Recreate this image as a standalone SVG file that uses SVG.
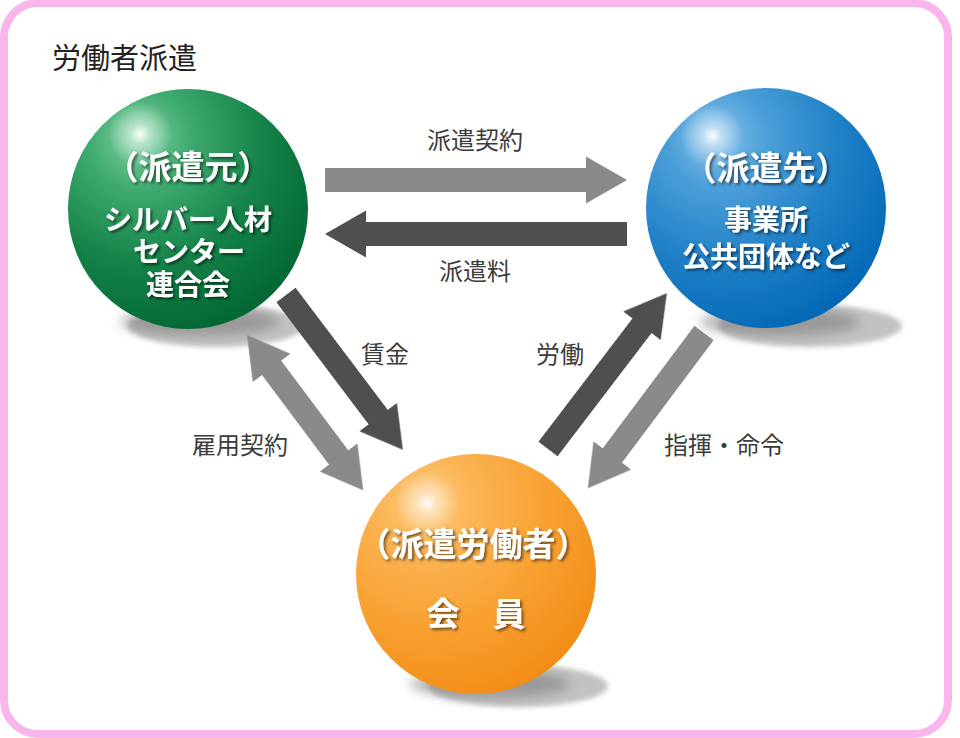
<svg xmlns="http://www.w3.org/2000/svg" width="960" height="738" viewBox="0 0 960 738">
<defs>
<style>
.title{font-family:"Noto Sans CJK JP","Noto Sans",sans-serif;font-size:29px;fill:#222;}
.lbl{font-family:"Noto Sans CJK JP","Noto Sans",sans-serif;font-size:24px;fill:#3c3c3c;}
.nt{font-family:"Noto Sans CJK JP","Noto Sans",sans-serif;font-weight:bold;fill:#fff;text-anchor:middle;filter:url(#tshadow);}
.h{font-size:33px;}
.s{font-size:28px;}
.light{fill:#8a8a8a;}
.dark{fill:#4f4f4f;}
.shadow{fill:#c2c2c2;filter:url(#blur);}
.contact{fill:#777;filter:url(#blur2);opacity:0.55;}
</style>
<filter id="tshadow" x="-20%" y="-30%" width="140%" height="160%">
<feDropShadow dx="2" dy="2" stdDeviation="1.5" flood-color="#000" flood-opacity="0.55"/>
</filter>
<filter id="blur" x="-20%" y="-50%" width="140%" height="200%"><feGaussianBlur stdDeviation="2.5"/></filter>
<filter id="blur2" x="-20%" y="-50%" width="140%" height="200%"><feGaussianBlur stdDeviation="6"/></filter>
<filter id="ablur"><feGaussianBlur stdDeviation="0.6"/></filter>
<radialGradient id="gGreen" cx="0.32" cy="0.24" r="0.85" fx="0.29" fy="0.2">
<stop offset="0" stop-color="#7fd0a2"/>
<stop offset="0.25" stop-color="#3faa6f"/>
<stop offset="0.6" stop-color="#148248"/>
<stop offset="1" stop-color="#006430"/>
</radialGradient>
<radialGradient id="gBlue" cx="0.32" cy="0.24" r="0.85" fx="0.29" fy="0.2">
<stop offset="0" stop-color="#84c0ea"/>
<stop offset="0.25" stop-color="#4a9ed8"/>
<stop offset="0.6" stop-color="#1f80c6"/>
<stop offset="1" stop-color="#0065b4"/>
</radialGradient>
<radialGradient id="gOrange" cx="0.32" cy="0.24" r="0.85" fx="0.29" fy="0.2">
<stop offset="0" stop-color="#fdca80"/>
<stop offset="0.25" stop-color="#fbb352"/>
<stop offset="0.6" stop-color="#f8a030"/>
<stop offset="1" stop-color="#f18a14"/>
</radialGradient>
<radialGradient id="hl">
<stop offset="0" stop-color="#fff" stop-opacity="0.95"/>
<stop offset="0.3" stop-color="#fff" stop-opacity="0.5"/>
<stop offset="1" stop-color="#fff" stop-opacity="0"/>
</radialGradient>
</defs>
<rect width="960" height="738" fill="#fff"/>
<rect id="frame" x="4" y="3" width="944" height="731" rx="34" fill="none" stroke="#f8b6ec" stroke-width="8"/>
<text class="title" x="52" y="69">労働者派遣</text>

<g id="node-haken-moto">
<ellipse class="shadow" cx="216" cy="326" rx="88" ry="21"/>
<ellipse class="contact" cx="200" cy="322" rx="80" ry="14"/>
<circle cx="188" cy="209" r="120" fill="url(#gGreen)"/>
<circle cx="140" cy="134" r="32" fill="url(#hl)"/>
<text class="nt h" x="188" y="179">（派遣元）</text>
<text class="nt s" x="188" y="230">シルバー人材</text>
<text class="nt s" x="189" y="262">センター</text>
<text class="nt s" x="188" y="295">連合会</text>
</g>

<g id="node-haken-saki">
<ellipse class="shadow" cx="810" cy="326" rx="92" ry="21"/>
<ellipse class="contact" cx="780" cy="322" rx="80" ry="14"/>
<circle cx="766" cy="208" r="120" fill="url(#gBlue)"/>
<circle cx="712" cy="136" r="32" fill="url(#hl)"/>
<text class="nt h" x="766" y="180">（派遣先）</text>
<text class="nt s" x="766" y="230">事業所</text>
<text class="nt s" x="766" y="267">公共団体など</text>
</g>

<g id="node-worker">
<ellipse class="shadow" cx="518" cy="686" rx="90" ry="21"/>
<ellipse class="contact" cx="490" cy="684" rx="80" ry="14"/>
<circle cx="476" cy="574" r="120" fill="url(#gOrange)"/>
<circle cx="427" cy="503" r="32" fill="url(#hl)"/>
<text class="nt h" x="473" y="556">（派遣労働者）</text>
<text class="nt" style="font-size:33px" x="476" y="626">会　員</text>
</g>

<g id="connectors">
<polygon id="arrow-contract" class="light" filter="url(#ablur)" points="325,168 586,168 586,156.5 627,180 586,203.5 586,192 325,192"/>
<polygon id="arrow-fee" class="dark" filter="url(#ablur)" points="627,222 366,222 366,210.5 325,234 366,257.5 366,246 627,246"/>
<path id="arrow-wage" class="dark" filter="url(#ablur)" transform="translate(286,295) rotate(52.95)" d="M0,-12 H153 V-23.5 L194,0 L153,23.5 V12 H0 Z"/>
<path id="arrow-employment" class="light" filter="url(#ablur)" transform="translate(247,335) rotate(53.2)" d="M0,0 L41,-23.5 V-12 H153 V-23.5 L194,0 L153,23.5 V12 H41 V23.5 Z"/>
<path id="arrow-labor" class="dark" filter="url(#ablur)" transform="translate(548,449) rotate(-52.67)" d="M0,-12 H155 V-23.5 L196,0 L155,23.5 V12 H0 Z"/>
<path id="arrow-command" class="light" filter="url(#ablur)" transform="translate(704,333) rotate(126.8)" d="M0,-12 H153 V-23.5 L194,0 L153,23.5 V12 H0 Z"/>
<text class="lbl" x="427" y="149">派遣契約</text>
<text class="lbl" x="439" y="280">派遣料</text>
<text class="lbl" x="361" y="363">賃金</text>
<text class="lbl" x="192" y="454">雇用契約</text>
<text class="lbl" x="536" y="363">労働</text>
<text class="lbl" x="664" y="454">指揮・命令</text>
</g>
</svg>
